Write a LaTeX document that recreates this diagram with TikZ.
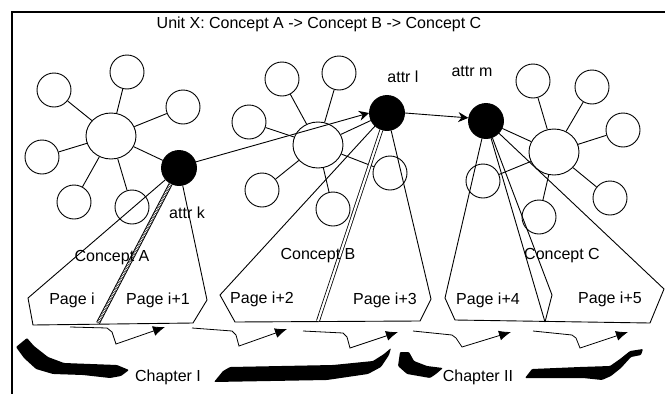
\documentclass[tikz,border=0pt]{standalone}
\usepackage{fontspec}
\setmainfont{Liberation Sans}
\usetikzlibrary{arrows.meta,shapes.geometric}
\begin{document}
\begin{tikzpicture}[x=1pt,y=-1pt, line width=0.9pt,
  sc/.style={circle,draw,minimum size=34pt,inner sep=0pt},
  bc/.style={ellipse,draw,minimum width=50pt,minimum height=46pt,inner sep=0pt},
  blackdot/.style={circle,fill=black,draw=black,minimum size=35pt,inner sep=0pt},
  lbl/.style={font=\fontsize{16}{19}\selectfont, inner sep=0pt},
  linkarrow/.style={-{Stealth[length=10pt,width=10pt]}},
  flowarrow/.style={-{Latex[length=12pt,width=10pt]}, line width=0.8pt},
  bracepart/.style={fill=black, rounded corners=1pt},
  framestyle/.style={line width=1.6pt}]
\useasboundingbox (0,0) rectangle (665,394);

% frame
\coordinate (fTL) at (12,12);
\coordinate (fTR) at (665,12);
\coordinate (fBL) at (12,394);
\draw[framestyle] (fTR) -- (fTL) -- (fBL);

\node[lbl] (title) at (319,24) {Unit X: Concept A -> Concept B -> Concept C};

% concept map A
\node[bc] (bigA) at (111,136) {};
\node[sc] (a1) at (127,72) {};
\node[sc] (a2) at (54,90) {};
\node[sc] (a3) at (183,107) {};
\node[sc] (a4) at (42,157) {};
\node[sc] (a5) at (74,202) {};
\node[sc] (a6) at (132,207) {};
\node[blackdot] (dotK) at (179,168) {};
\foreach \n in {a1,a2,a3,a4,a5,a6,dotK} \draw (bigA) -- (\n);

% concept map B
\node[bc] (bigB) at (318,145) {};
\node[sc] (b1) at (282,79) {};
\node[sc] (b2) at (339,73) {};
\node[sc] (b3) at (249,122) {};
\node[sc] (b4) at (262,190) {};
\node[sc] (b5) at (333,209) {};
\node[sc] (b6) at (390,173) {};
\node[blackdot] (dotL) at (387,113) {};
\foreach \n in {b1,b2,b3,b4,b5,b6,dotL} \draw (bigB) -- (\n);

% concept map C
\node[bc] (bigC) at (554,152) {};
\node[sc] (c1) at (533,81) {};
\node[sc] (c2) at (592,87) {};
\node[sc] (c3) at (623,130) {};
\node[sc] (c4) at (610,198) {};
\node[sc] (c5) at (539,217) {};
\node[sc] (c6) at (483,181) {};
\node[blackdot] (dotM) at (486,121) {};
\foreach \n in {c1,c2,c3,c4,c5,c6,dotM} \draw (bigC) -- (\n);

% attribute labels
\node[lbl] (attrK) at (187,213) {attr k};
\node[lbl] (attrL) at (403,77) {attr l};
\node[lbl] (attrM) at (472,71) {attr m};

% links between attributes
\draw[linkarrow] (dotK.20) -- (dotL.west);
\draw[linkarrow] (dotL.east) -- (dotM.170);

% polygon A
\coordinate (pA1) at (28,298);
\coordinate (pA2) at (33,325);
\coordinate (pA3) at (193,323);
\coordinate (pA4) at (207,300);
\coordinate (dA) at (98,323);
\draw (dotK) -- (pA1) -- (pA2) -- (pA3) -- (pA4) -- (dotK);
\draw[line width=4pt] (dotK) -- (dA);
\draw[white, line width=2.2pt, dash pattern=on 0.8pt off 0.8pt] (dotK) -- (dA);

% polygon B
\coordinate (pB1) at (220,295);
\coordinate (pB2) at (235,322);
\coordinate (pB3) at (420,321);
\coordinate (pB4) at (431,299);
\coordinate (dB) at (318,321);
\draw (dotL) -- (pB1) -- (pB2) -- (pB3) -- (pB4) -- (dotL);
\draw[double distance=2.2pt, line width=0.8pt] (dotL) -- (dB);

% polygon C
\coordinate (pC1) at (445,298);
\coordinate (pC2) at (455,320);
\coordinate (pC3) at (650,323);
\coordinate (pC4) at (664,289);
\coordinate (dC1) at (545,322);
\coordinate (dC2) at (552,295);
\draw (dotM) -- (pC1) -- (pC2) -- (pC3) -- (pC4) -- (dotM);
\draw (dotM) -- (dC1);
\draw (dotM) -- (dC2) -- (dC1);

% labels in polygons
\node[lbl] (conA) at (112,258) {Concept A};
\node[lbl] (conB) at (318,256) {Concept B};
\node[lbl] (conC) at (562,256) {Concept C};
\node[lbl] (pg0) at (72,300) {Page i};
\node[lbl] (pg1) at (158,300) {Page i+1};
\node[lbl] (pg2) at (262,299) {Page i+2};
\node[lbl] (pg3) at (385,300) {Page i+3};
\node[lbl] (pg4) at (488,300) {Page i+4};
\node[lbl] (pg5) at (610,299) {Page i+5};

% flow connectors between pages
\coordinate (f1s) at (70,327);
\coordinate (f1e) at (165,327);
\draw[flowarrow] (f1s) -- (107,328) -- (112,332) -- (116,344) -- (f1e);
\coordinate (f2s) at (192,328);
\coordinate (f2e) at (287,329);
\draw[flowarrow] (f2s) -- (232,331) -- (236,335) -- (239,346) -- (f2e);
\coordinate (f3s) at (303,331);
\coordinate (f3e) at (398,332);
\draw[flowarrow] (f3s) -- (343,333) -- (347,337) -- (350,348) -- (f3e);
\coordinate (f4s) at (413,331);
\coordinate (f4e) at (511,332);
\draw[flowarrow] (f4s) -- (452,335) -- (456,338) -- (462,347) -- (f4e);
\coordinate (f5s) at (533,331);
\coordinate (f5e) at (628,332);
\draw[flowarrow] (f5s) -- (572,335) -- (576,338) -- (580,348) -- (f5e);

% chapter braces
\fill[bracepart] (16,347) -- (27,338) -- (34,346) -- (48,357) -- (64,363) -- (117,365) -- (129,370)
  -- (121,376) -- (110,378) -- (83,375) -- (53,374) -- (36,369) -- (24,358) -- cycle;
\fill[bracepart] (214,382) -- (223,371) -- (230,367) -- (333,365) -- (373,361) -- (384,354) -- (391,348)
  -- (389,355) -- (381,367) -- (368,374) -- (327,380) -- cycle;
\fill[bracepart] (400,352) -- (409,352) -- (414,361) -- (427,366) -- (443,368) -- (436,374) -- (430,378)
  -- (407,374) -- (398,366) -- cycle;
\fill[bracepart] (525,378) -- (532,369) -- (580,367) -- (610,366) -- (620,359) -- (630,351) -- (643,349)
  -- (641,355) -- (631,357) -- (621,368) -- (611,376) -- (602,380) -- (583,378) -- cycle;

\node[lbl] (chap1) at (168,377) {Chapter I};
\node[lbl] (chap2) at (478,377) {Chapter II};
\end{tikzpicture}
\end{document}
